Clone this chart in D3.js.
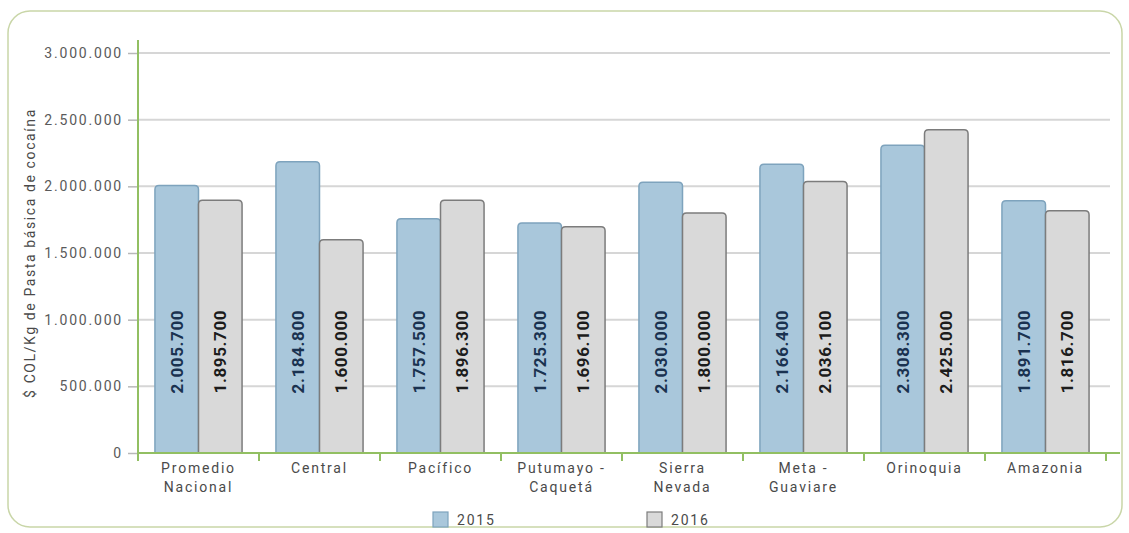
<!DOCTYPE html>
<html>
<head>
<meta charset="utf-8">
<script src="https://cdn.jsdelivr.net/npm/d3@7"></script>
<style>
  body { margin: 0; background: #fff; }
  text { font-family: Roboto, "Liberation Sans", sans-serif; }
</style>
</head>
<body>
<script>
// data
var categories = [["Promedio", "Nacional"], ["Central"], ["Pacífico"], ["Putumayo -", "Caquetá"],
                  ["Sierra", "Nevada"], ["Meta -", "Guaviare"], ["Orinoquia"], ["Amazonia"]];
var years = ["2015", "2016"];
var values2015 = [2005700, 2184800, 1757500, 1725300, 2030000, 2166400, 2308300, 1891700];
var values2016 = [1895700, 1600000, 1896300, 1696100, 1800000, 2036100, 2425000, 1816700];
var yTicks = [0, 500000, 1000000, 1500000, 2000000, 2500000, 3000000];
var yTitle = "$ COL/Kg de Pasta básica de cocaína";

var W = 1129, H = 533;
var fills = ["#a9c7db", "#d9d9d9"],
    strokes = ["#7ea3bd", "#7c7c7c"],
    labelColors = ["#1a3250", "#1c1c1c"];

var fmt = function(v) { return d3.format(",")(v).replace(/,/g, "."); };

var svg = d3.select("body").append("svg")
    .attr("width", W)
    .attr("height", H);

// frame
svg.append("rect")
    .attr("x", 8).attr("y", 11)
    .attr("width", 1114).attr("height", 516)
    .attr("rx", 22).attr("ry", 22)
    .attr("fill", "none")
    .attr("stroke", "#c9d6a8")
    .attr("stroke-width", 1.5);

var plotLeft = 138, plotRight = 1106, plotTop = 53, plotBottom = 453;

var x0 = d3.scaleBand()
    .domain(d3.range(categories.length))
    .range([plotLeft, plotRight])
    .paddingInner(0.28)
    .paddingOuter(0.14);

var x1 = d3.scaleBand()
    .domain([0, 1])
    .range([0, x0.bandwidth()]);

var y = d3.scaleLinear()
    .domain([0, 3000000])
    .range([plotBottom, plotTop]);

// grid
svg.append("g").selectAll("line")
    .data(yTicks.filter(function(d) { return d > 0; }))
    .join("line")
    .attr("x1", plotLeft).attr("x2", 1110)
    .attr("y1", function(d) { return y(d); })
    .attr("y2", function(d) { return y(d); })
    .attr("stroke", "#d6d6d6")
    .attr("stroke-width", 2);

// y axis
var yAxis = svg.append("g")
    .attr("transform", "translate(" + plotLeft + ",0)")
    .call(d3.axisLeft(y).tickValues(yTicks).tickFormat(fmt).tickSize(10).tickPadding(5));
yAxis.select(".domain").remove();
yAxis.selectAll(".tick line").attr("stroke", "#b8b8b8").attr("stroke-width", 1.5);
yAxis.selectAll(".tick text")
    .attr("fill", "#5a5a5a")
    .style("font-size", "14px")
    .style("letter-spacing", "1.8px");

svg.append("line")
    .attr("x1", plotLeft).attr("x2", plotLeft)
    .attr("y1", 40).attr("y2", plotBottom + 8)
    .attr("stroke", "#92bf62").attr("stroke-width", 2);

// bars with rounded top corners
var barPath = function(bx, by, bw, bh) {
  var r = Math.min(4, bh);
  return "M" + bx + "," + (by + bh) +
    "V" + (by + r) +
    "Q" + bx + "," + by + " " + (bx + r) + "," + by +
    "H" + (bx + bw - r) +
    "Q" + (bx + bw) + "," + by + " " + (bx + bw) + "," + (by + r) +
    "V" + (by + bh) + "Z";
};

var series = [values2015, values2016];
var labelY = y(760000);

series.forEach(function(vals, s) {
  var g = svg.append("g");
  g.selectAll("path")
    .data(vals)
    .join("path")
    .attr("d", function(d, i) {
      return barPath(x0(i) + x1(s), y(d), x1.bandwidth(), y(0) - y(d));
    })
    .attr("fill", fills[s])
    .attr("stroke", strokes[s])
    .attr("stroke-width", 1.5);

  g.selectAll("text")
    .data(vals)
    .join("text")
    .attr("transform", function(d, i) {
      return "translate(" + (x0(i) + x1(s) + x1.bandwidth() / 2) + "," + labelY + ") rotate(-90)";
    })
    .attr("text-anchor", "middle")
    .attr("dy", "0.36em")
    .attr("fill", labelColors[s])
    .style("font-size", "17px")
    .style("font-weight", "bold")
    .style("letter-spacing", "0.6px")
    .text(fmt);
});

// x axis
svg.append("line")
    .attr("x1", plotLeft).attr("x2", 1120)
    .attr("y1", plotBottom).attr("y2", plotBottom)
    .attr("stroke", "#92bf62").attr("stroke-width", 2);

svg.append("g").selectAll("line")
    .data(d3.range(categories.length + 1))
    .join("line")
    .attr("x1", function(i) { return plotLeft + i * x0.step(); })
    .attr("x2", function(i) { return plotLeft + i * x0.step(); })
    .attr("y1", plotBottom).attr("y2", plotBottom + 8)
    .attr("stroke", "#92bf62").attr("stroke-width", 2);

var catText = svg.append("g").selectAll("text")
    .data(categories)
    .join("text")
    .attr("x", function(d, i) { return x0(i) + x0.bandwidth() / 2; })
    .attr("y", 473)
    .attr("text-anchor", "middle")
    .attr("fill", "#4a4a4a")
    .style("font-size", "14px")
    .style("letter-spacing", "1.8px");

catText.selectAll("tspan")
    .data(function(d) { return d; })
    .join("tspan")
    .attr("x", function() { return d3.select(this.parentNode).attr("x"); })
    .attr("dy", function(d, j) { return j === 0 ? 0 : 19; })
    .text(function(d) { return d; });

// y title
svg.append("text")
    .attr("transform", "translate(30,253) rotate(-90)")
    .attr("text-anchor", "middle")
    .attr("dy", "0.36em")
    .attr("fill", "#4a4a4a")
    .style("font-size", "14px")
    .style("letter-spacing", "1.6px")
    .text(yTitle);

// legend
var legendX = [433, 647];
var legend = svg.append("g").selectAll("g")
    .data(years)
    .join("g")
    .attr("transform", function(d, i) { return "translate(" + legendX[i] + ",512)"; });

legend.append("rect")
    .attr("width", 15).attr("height", 15)
    .attr("fill", function(d, i) { return fills[i]; })
    .attr("stroke", function(d, i) { return strokes[i]; })
    .attr("stroke-width", 1.2);

legend.append("text")
    .attr("x", 24).attr("y", 8)
    .attr("dy", "0.36em")
    .attr("fill", "#4a4a4a")
    .style("font-size", "14px")
    .style("letter-spacing", "1.8px")
    .text(function(d) { return d; });
</script>
</body>
</html>
